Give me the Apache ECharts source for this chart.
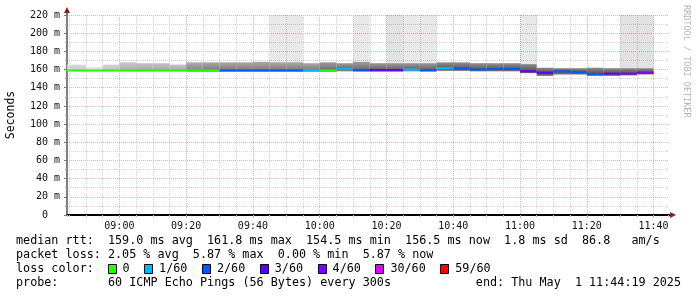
<!DOCTYPE html>
<html><head><meta charset="utf-8">
<script src="https://cdn.jsdelivr.net/npm/echarts@6/dist/echarts.min.js"></script>
<style>html,body{margin:0;padding:0;background:#fff}#c{width:697px;height:297px}</style>
</head><body><div id="c"></div>
<script>
// ---- data (5-minute bins) ----
const binTimes = ['08:40','08:45','08:50','08:55','09:00','09:05','09:10','09:15','09:20','09:25',
  '09:30','09:35','09:40','09:45','09:50','09:55','10:00','10:05','10:10','10:15',
  '10:20','10:25','10:30','10:35','10:40','10:45','10:50','10:55','11:00','11:05',
  '11:10','11:15','11:20','11:25','11:30','11:35'];
const medianMs = [159,159,159,159,159,159,159,159,159,159,
  159,159,159,159,159,159,159,161,159.5,159.5,
  159.5,160,159.5,161.5,161,160,160.5,160.5,158,156.5,
  158,157,155,155.5,155.5,156.5];
const lossPings = [0,0,0,0,0,0,0,0,0,0,
  2,2,2,2,2,1,0,1,2,3,
  3,1,2,1,2,2,2,2,3,3,
  2,2,2,3,4,4];
const smokeHighMs = [165.5,165.5,163,165.5,168,167,167,165.5,168,168,
  168,168,168.5,168,168,167,168,167,168.5,167,
  167,167,167,168,168,167,167,167,166,162,
  161.5,161.5,162,161.5,161.5,161.5];
const smokeLowMs = [158,158,158,158,158,158,158,158,157.5,157.5,
  157.5,157.5,157.5,157.5,157.5,157.5,157.5,158,157.5,157.5,
  157.5,158,157.5,158.5,158.5,158,158,158,156,153,
  154.5,154.5,153,153,153.5,154.5];
const smokeDensity = [0.15,0.15,0.05,0.2,0.3,0.35,0.35,0.35,0.55,0.6,
  0.6,0.6,0.6,0.6,0.6,0.6,0.7,0.7,0.7,0.75,
  0.75,0.75,0.75,0.8,0.8,0.8,0.8,0.8,0.85,0.85,
  0.85,0.85,0.85,0.85,0.85,0.85];
const outlierPings = [0,0,0,0,0,0,0,0,0,0,
  0,0,0,1,1,0,0,0,1,0,
  2,1,1,0,0,0,0,0,1,0,
  0,0,0,0,2,2];
const lossLegend = ['0','1/60','2/60','3/60','4/60','30/60','59/60'];
const lossThresholds = [0,1,2,3,4,30,59];
const lossColors = ['#26ff00','#00b8ff','#0059ff','#5e00ff','#7e00ff','#dd00ff','#ff0000'];
const statsLines = [
  'median rtt:  159.0 ms avg  161.8 ms max  154.5 ms min  156.5 ms now  1.8 ms sd  86.8   am/s',
  'packet loss: 2.05 % avg  5.87 % max  0.00 % min  5.87 % now'
];
const lossLabel = 'loss color:';
const probeLabel = 'probe:';
const probeText = '60 ICMP Echo Pings (56 Bytes) every 300s';
const endText = 'end: Thu May  1 11:44:19 2025';
const yAxisName = 'Seconds';
const watermark = 'RRDTOOL / TOBI OETIKER';
const yMin = 0, yMax = 220, yStep = 20;

// ---- helpers ----
const MIN = 60000, BIN = 5 * MIN;
function t(hm){ const p = hm.split(':').map(Number); return Date.UTC(2025,4,1,p[0],p[1],0); }
const xMin = Date.UTC(2025,4,1,8,44,19), xMax = Date.UTC(2025,4,1,11,44,19);
const pad = n => (n < 10 ? '0' : '') + n;
const gray = v => { const c = Math.max(0, Math.min(255, Math.round(v))); return 'rgb(' + c + ',' + c + ',' + c + ')'; };
function lossColor(n){ let c = lossColors[0]; lossThresholds.forEach((th,i)=>{ if(n >= th) c = lossColors[i]; }); return c; }

const rows = binTimes.map((b,i)=>[t(b), smokeHighMs[i], smokeLowMs[i], medianMs[i], lossPings[i], smokeDensity[i], outlierPings[i]]);

const FONT = '"DejaVu Sans Mono", monospace';
const chart = echarts.init(document.getElementById('c'), null, {renderer:'canvas'});

const graphics = [];
const LX = 16, CW = 7.08;
statsLines.forEach((s,i)=>graphics.push({type:'text', x:LX, y:241 + i*14, style:{text:s, font:'11.75px ' + FONT, fill:'#000', verticalAlign:'middle'}}));
graphics.push({type:'text', x:LX, y:269, style:{text:lossLabel, font:'11.75px ' + FONT, fill:'#000', verticalAlign:'middle'}});
let sx = LX + 13*CW - 0.5;
lossLegend.forEach((lab,i)=>{
  graphics.push({type:'rect', shape:{x:Math.round(sx)+0.5, y:264.5, width:8, height:9}, style:{fill:lossColors[i], stroke:'#000', lineWidth:1}});
  const tx = sx + 15;
  graphics.push({type:'text', x:tx, y:269, style:{text:lab, font:'11.75px ' + FONT, fill:'#000', verticalAlign:'middle'}});
  sx = tx + lab.length*CW + 14.5;
});
graphics.push({type:'text', x:LX, y:283, style:{text:probeLabel, font:'11.75px ' + FONT, fill:'#000', verticalAlign:'middle'}});
graphics.push({type:'text', x:LX + 13*CW, y:283, style:{text:probeText, font:'11.75px ' + FONT, fill:'#000', verticalAlign:'middle'}});
graphics.push({type:'text', x:681, y:283, style:{text:endText, font:'11.75px ' + FONT, fill:'#000', align:'right', verticalAlign:'middle'}});
graphics.push({type:'text', x:686, y:5, rotation:-Math.PI/2, style:{text:watermark, font:'8.5px ' + FONT, fill:'#b4b4b4', align:'left', verticalAlign:'middle'}});
// axis arrows & extensions
graphics.push({type:'line', shape:{x1:67, y1:15, x2:67, y2:10}, style:{stroke:'#555', lineWidth:1.5}});
graphics.push({type:'polygon', shape:{points:[[64,13],[70,13],[67,7]]}, style:{fill:'#8b1f1f'}});
graphics.push({type:'line', shape:{x1:668, y1:215, x2:671, y2:215}, style:{stroke:'#000', lineWidth:2}});
graphics.push({type:'polygon', shape:{points:[[670,212],[670,218],[676,215]]}, style:{fill:'#8b1f1f'}});

const timeFmt = v => { const d = new Date(v); return pad(d.getUTCHours()) + ':' + pad(d.getUTCMinutes()); };

const option = {
  animation:false,
  useUTC:true,
  backgroundColor:'#fff',
  grid:{left:67, top:15, width:601, height:200, containLabel:false, outerBoundsMode:'none'},
  xAxis:[
    {type:'time', min:xMin, max:xMax, minInterval:5.5*MIN, maxInterval:5.5*MIN,
     axisLine:{show:false}, axisLabel:{show:false},
     axisTick:{show:true, length:2, lineStyle:{color:'#bbb'}},
     splitLine:{show:true, showMinLine:false, showMaxLine:false, lineStyle:{color:'#d4d4d4', type:[1,1], width:1}}},
    {type:'time', min:xMin, max:xMax, minInterval:20.5*MIN, maxInterval:20.5*MIN, position:'bottom',
     axisLine:{show:true, lineStyle:{color:'#000', width:2}},
     axisTick:{show:true, length:3, lineStyle:{color:'#e89a9a'}},
     axisLabel:{show:true, formatter:timeFmt, showMinLabel:false, showMaxLabel:false, margin:6,
                fontFamily:FONT, fontSize:10, color:'#111'},
     splitLine:{show:true, showMinLine:false, showMaxLine:false, lineStyle:{color:'#f0b4b4', type:[1,1], width:1}}}
  ],
  yAxis:{type:'value', min:yMin, max:yMax, interval:yStep,
    name:yAxisName, nameLocation:'middle', nameGap:50, nameRotate:90,
    nameTextStyle:{fontFamily:FONT, fontSize:11.5, color:'#000'},
    axisLine:{show:true, lineStyle:{color:'#555', width:1.5}},
    axisTick:{show:true, length:3, lineStyle:{color:'#777'}},
    minorTick:{show:true, splitNumber:2, length:2, lineStyle:{color:'#aaa'}},
    axisLabel:{formatter:v => v === 0 ? '0  ' : v + ' m', margin:7, fontFamily:FONT, fontSize:10, color:'#111'},
    splitLine:{show:true, lineStyle:{color:'#f0b4b4', type:[1,1], width:1}},
    minorSplitLine:{show:true, lineStyle:{color:'#d4d4d4', type:[1,1], width:1}}
  },
  graphic:graphics,
  series:[{
    type:'custom', clip:true, xAxisIndex:0, yAxisIndex:0,
    encode:{x:0, y:1},
    data:rows,
    renderItem:function(params, api){
      const s = api.value(0), hi = api.value(1), lo = api.value(2), med = api.value(3);
      const loss = api.value(4), d = api.value(5), out = api.value(6);
      const pTL = api.coord([s, hi]), pBR = api.coord([s + BIN, lo]), pM = api.coord([s, med]);
      const pTop = api.coord([s, yMax]);
      const x0 = pTL[0], w = pBR[0] - pTL[0];
      const ch = [];
      if (out > 0) ch.push({type:'rect', shape:{x:x0, y:pTop[1], width:w, height:pTL[1]-pTop[1]},
        style:{fill: out > 1 ? 'rgba(0,0,0,0.115)' : 'rgba(0,0,0,0.09)'}});
      const f = Math.max(0.01, Math.min(0.99, (pM[1] - pTL[1]) / (pBR[1] - pTL[1])));
      ch.push({type:'rect', shape:{x:x0, y:pTL[1], width:w, height:pBR[1]-pTL[1]},
        style:{fill:new echarts.graphic.LinearGradient(0,0,0,1,[
          {offset:0, color:gray(235 - 110*d)},
          {offset:f, color:gray(225 - 170*d)},
          {offset:1, color:gray(215 - 110*d)}])}});
      ch.push({type:'rect', shape:{x:x0, y:pM[1]-1, width:w, height:2}, style:{fill:lossColor(loss)}});
      return {type:'group', children:ch};
    }
  }]
};
chart.setOption(option);
</script></body></html>
